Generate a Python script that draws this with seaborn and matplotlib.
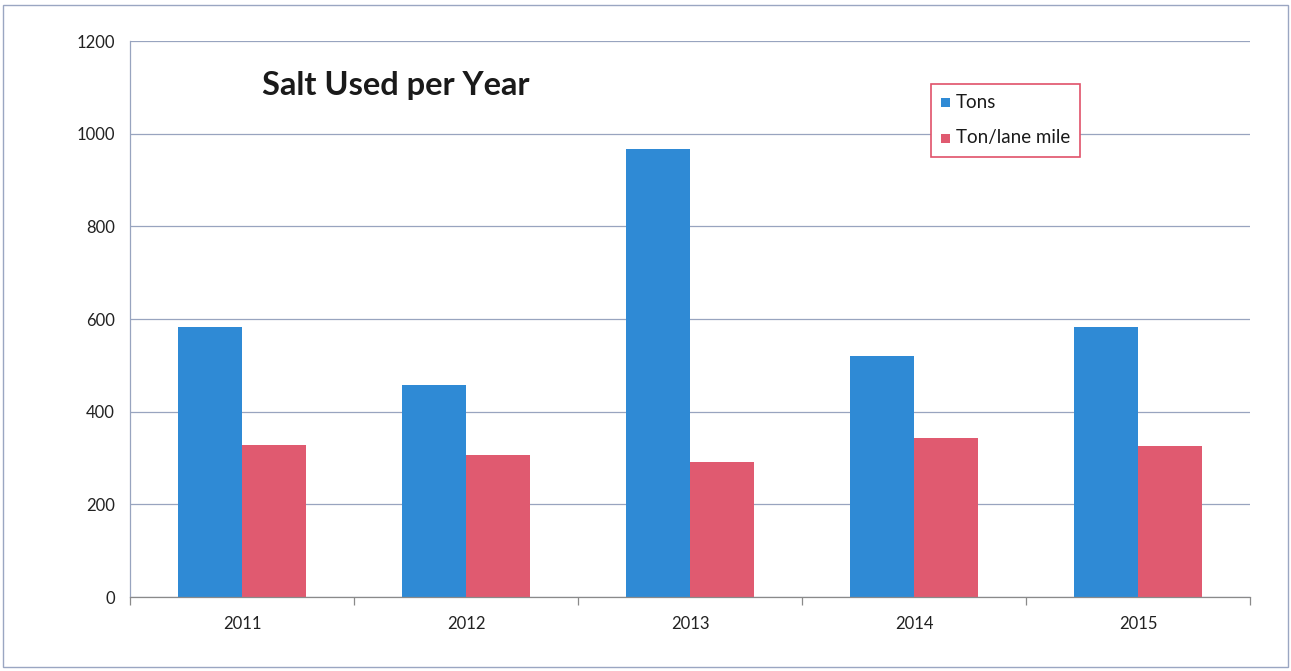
import matplotlib
matplotlib.use("Agg")
import matplotlib.pyplot as plt
from matplotlib.patches import Rectangle
from matplotlib.ticker import FixedLocator
import seaborn as sns
import pandas as pd

# Salt usage by year
years = ["2011", "2012", "2013", "2014", "2015"]
tons = [583, 457, 967, 520, 582]
ton_per_lane_mile = [328, 306, 291, 343, 326]
series_names = ["Tons", "Ton/lane mile"]
yticks = [0, 200, 400, 600, 800, 1000, 1200]

df = pd.DataFrame({
    "Year": years * 2,
    "Value": tons + ton_per_lane_mile,
    "Series": [series_names[0]] * len(years) + [series_names[1]] * len(years),
})

sns.set_theme(style="white")
plt.rcParams["font.family"] = ["Lato", "DejaVu Sans"]

fig = plt.figure(figsize=(12.91, 6.71), dpi=100)
ax = fig.add_axes([130 / 1291, 1 - 597 / 671, 1120 / 1291, 556 / 671])

palette = {"Tons": "#2F8AD5", "Ton/lane mile": "#E05A70"}
sns.barplot(data=df, x="Year", y="Value", hue="Series", palette=palette,
            width=0.57, gap=0, saturation=1, linewidth=0, ax=ax, legend=False)

ax.set_xlim(-0.5, len(years) - 0.5)
ax.set_ylim(0, 1200)
ax.set_yticks(yticks)
ax.set_yticklabels([str(t) for t in yticks])
ax.set_xlabel("")
ax.set_ylabel("")

grid_color = "#98A4BF"
ax.grid(axis="y", color=grid_color, linewidth=0.9)
ax.set_axisbelow(True)
for side in ["top", "right"]:
    ax.spines[side].set_visible(False)
ax.spines["left"].set_color(grid_color)
ax.spines["bottom"].set_color("#8A8A8A")
ax.spines["left"].set_linewidth(0.9)
ax.spines["bottom"].set_linewidth(0.9)

ax.tick_params(axis="y", which="major", length=6, width=0.9, color=grid_color,
               labelsize=12, labelcolor="#222222", pad=5)
ax.tick_params(axis="x", which="major", length=0, labelsize=12,
               labelcolor="#222222", pad=14)
ax.xaxis.set_minor_locator(FixedLocator([i - 0.5 for i in range(len(years) + 1)]))
ax.tick_params(axis="x", which="minor", length=6, width=0.9, color="#8A8A8A",
               bottom=True)

ax.text(0.118, 0.92, "Salt Used per Year", transform=ax.transAxes,
        fontsize=23.5, fontweight="bold", color="#1A1A1A", va="center", ha="left")

# Legend box with red frame
lx0, ly0 = 931 / 1291, 1 - 157 / 671
lw, lh = 149 / 1291, 73 / 671
fig.patches.append(Rectangle((lx0, ly0), lw, lh, transform=fig.transFigure,
                             facecolor="white", edgecolor="#E0526A",
                             linewidth=1.2, zorder=5))
for i, name in enumerate(series_names):
    yc = 1 - (102 + 36 * i) / 671
    fig.patches.append(Rectangle((941 / 1291, yc - 4.5 / 671), 9 / 1291, 9 / 671,
                                 transform=fig.transFigure,
                                 facecolor=palette[name], edgecolor="none", zorder=6))
    fig.text(956 / 1291, yc, name, fontsize=13.5, color="#1A1A1A",
             va="center", ha="left", zorder=7)

# Outer page frame
fig.patches.append(Rectangle((3 / 1291, 4 / 671), 1285 / 1291, 662 / 671,
                             transform=fig.transFigure, facecolor="none",
                             edgecolor="#9AA6C2", linewidth=1.0))

fig.savefig("out.png", dpi=100)
